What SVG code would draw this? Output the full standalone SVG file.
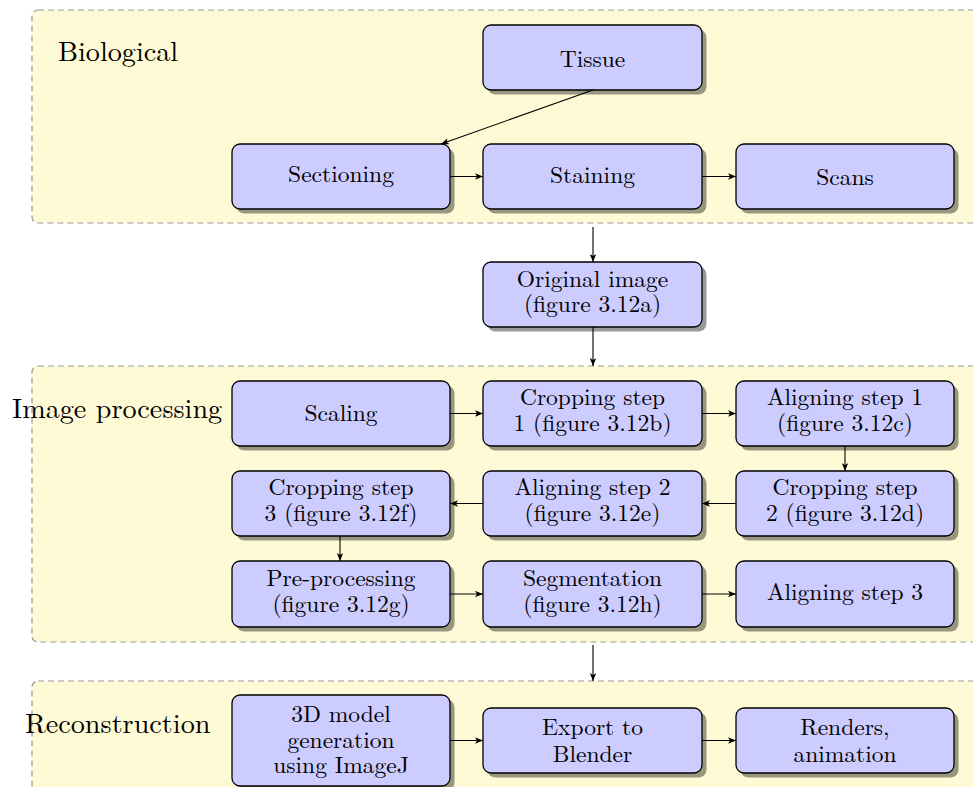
<svg xmlns="http://www.w3.org/2000/svg" width="973" height="787" viewBox="0 0 973 787">
<defs>
<marker id="arr" viewBox="0 0 10 8" refX="10" refY="4" markerWidth="8" markerHeight="6.4" markerUnits="userSpaceOnUse" orient="auto">
<path d="M0,0 L10,4 L0,8 L2.5,4 Z" fill="#000"/>
</marker>
</defs>
<style>
text{font-family:'Latin Modern Roman','Liberation Serif',serif;fill:#000}
.cont{fill:#fffad6;stroke:#999;stroke-width:1.2;stroke-dasharray:6 4}
.sh{fill:#000;fill-opacity:0.4}
.box{fill:#ccf;stroke:#000;stroke-width:1.3}
.t{font-size:23.5px;text-anchor:middle}
.lab{font-size:28.2px}
.c{fill:none;stroke:#000;stroke-width:1.1;marker-end:url(#arr)}
</style>
<rect width="973" height="787" fill="#fff"/>

<g id="biological">
<rect class="cont" x="32" y="10" width="1000" height="213" rx="6"/>
<text class="lab" x="58" y="61">Biological</text>
</g>
<g id="image-processing">
<rect class="cont" x="32" y="366" width="1000" height="276" rx="6"/>
<text class="lab" x="12" y="418">Image processing</text>
</g>
<g id="reconstruction">
<rect class="cont" x="32" y="681" width="1000" height="200" rx="6"/>
<text class="lab" x="25" y="733">Reconstruction</text>
</g>

<g id="tissue"><rect class="sh" x="487.5" y="29.5" width="219" height="65" rx="8"/><rect class="box" x="483" y="25" width="219" height="65" rx="8"/><text class="t" x="592.5" y="66.5">Tissue</text></g>
<g id="sectioning"><rect class="sh" x="236.5" y="148.5" width="218" height="65" rx="8"/><rect class="box" x="232" y="144" width="218" height="65" rx="8"/><text class="t" x="341" y="182">Sectioning</text></g>
<g id="staining"><rect class="sh" x="487.5" y="148.5" width="219" height="65" rx="8"/><rect class="box" x="483" y="144" width="219" height="65" rx="8"/><text class="t" x="592.5" y="182.5">Staining</text></g>
<g id="scans"><rect class="sh" x="740.5" y="148.5" width="218" height="65" rx="8"/><rect class="box" x="736" y="144" width="218" height="65" rx="8"/><text class="t" x="845" y="185">Scans</text></g>

<g id="original"><rect class="sh" x="487.5" y="266.5" width="219" height="65" rx="8"/><rect class="box" x="483" y="262" width="219" height="65" rx="8"/><text class="t" x="592.5" y="286.5">Original image<tspan x="592.5" dy="25">(figure 3.12a)</tspan></text></g>

<g id="scaling"><rect class="sh" x="236.5" y="385.5" width="218" height="65" rx="8"/><rect class="box" x="232" y="381" width="218" height="65" rx="8"/><text class="t" x="341" y="420.5">Scaling</text></g>
<g id="crop1"><rect class="sh" x="487.5" y="385.5" width="219" height="65" rx="8"/><rect class="box" x="483" y="381" width="219" height="65" rx="8"/><text class="t" x="592.5" y="405">Cropping step<tspan x="592.5" dy="26">1 (figure 3.12b)</tspan></text></g>
<g id="align1"><rect class="sh" x="740.5" y="385.5" width="218" height="65" rx="8"/><rect class="box" x="736" y="381" width="218" height="65" rx="8"/><text class="t" x="845" y="405">Aligning step 1<tspan x="845" dy="26">(figure 3.12c)</tspan></text></g>

<g id="crop3"><rect class="sh" x="236.5" y="475.5" width="218" height="65" rx="8"/><rect class="box" x="232" y="471" width="218" height="65" rx="8"/><text class="t" x="341" y="495">Cropping step<tspan x="341" dy="26">3 (figure 3.12f)</tspan></text></g>
<g id="align2"><rect class="sh" x="487.5" y="475.5" width="219" height="65" rx="8"/><rect class="box" x="483" y="471" width="219" height="65" rx="8"/><text class="t" x="592.5" y="495">Aligning step 2<tspan x="592.5" dy="26">(figure 3.12e)</tspan></text></g>
<g id="crop2"><rect class="sh" x="740.5" y="475.5" width="218" height="65" rx="8"/><rect class="box" x="736" y="471" width="218" height="65" rx="8"/><text class="t" x="845" y="495">Cropping step<tspan x="845" dy="26">2 (figure 3.12d)</tspan></text></g>

<g id="preproc"><rect class="sh" x="236.5" y="565.5" width="218" height="66" rx="8"/><rect class="box" x="232" y="561" width="218" height="66" rx="8"/><text class="t" x="341" y="585.5">Pre-processing<tspan x="341" dy="26">(figure 3.12g)</tspan></text></g>
<g id="segment"><rect class="sh" x="487.5" y="565.5" width="219" height="66" rx="8"/><rect class="box" x="483" y="561" width="219" height="66" rx="8"/><text class="t" x="592.5" y="585.5">Segmentation<tspan x="592.5" dy="26">(figure 3.12h)</tspan></text></g>
<g id="align3"><rect class="sh" x="740.5" y="565.5" width="218" height="66" rx="8"/><rect class="box" x="736" y="561" width="218" height="66" rx="8"/><text class="t" x="845" y="600">Aligning step 3</text></g>

<g id="model3d"><rect class="sh" x="236.5" y="699.5" width="218" height="91" rx="8"/><rect class="box" x="232" y="695" width="218" height="91" rx="8"/><text class="t" x="341" y="722">3D model<tspan x="341" dy="26">generation</tspan><tspan x="341" dy="25">using ImageJ</tspan></text></g>
<g id="export"><rect class="sh" x="487.5" y="712.5" width="219" height="65" rx="8"/><rect class="box" x="483" y="708" width="219" height="65" rx="8"/><text class="t" x="592.5" y="735">Export to<tspan x="592.5" dy="27">Blender</tspan></text></g>
<g id="renders"><rect class="sh" x="740.5" y="712.5" width="218" height="65" rx="8"/><rect class="box" x="736" y="708" width="218" height="65" rx="8"/><text class="t" x="845" y="735">Renders,<tspan x="845" dy="27">animation</tspan></text></g>

<g id="connectors">
<line class="c" x1="593" y1="90" x2="441" y2="144"/>
<line class="c" x1="450" y1="176.5" x2="483" y2="176.5"/>
<line class="c" x1="702" y1="176.5" x2="736" y2="176.5"/>
<line class="c" x1="593" y1="227" x2="593" y2="262"/>
<line class="c" x1="593" y1="327" x2="593" y2="366"/>
<line class="c" x1="450" y1="413.5" x2="483" y2="413.5"/>
<line class="c" x1="702" y1="413.5" x2="736" y2="413.5"/>
<line class="c" x1="845" y1="446" x2="845" y2="471"/>
<line class="c" x1="736" y1="503.5" x2="702" y2="503.5"/>
<line class="c" x1="483" y1="503.5" x2="450" y2="503.5"/>
<line class="c" x1="340" y1="536" x2="340" y2="561"/>
<line class="c" x1="450" y1="594" x2="483" y2="594"/>
<line class="c" x1="702" y1="594" x2="736" y2="594"/>
<line class="c" x1="593" y1="645" x2="593" y2="681"/>
<line class="c" x1="450" y1="740.5" x2="483" y2="740.5"/>
<line class="c" x1="702" y1="740.5" x2="736" y2="740.5"/>
</g>
</svg>
